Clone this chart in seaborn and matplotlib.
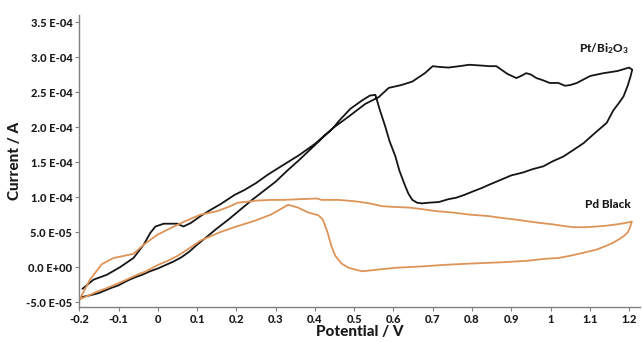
import matplotlib
matplotlib.use("Agg")
import matplotlib.pyplot as plt
import matplotlib.ticker as mticker
import seaborn as sns
import pandas as pd
import numpy as np

# ---- data (potential in V, current in units of 1e-5 A) ----
pt_v = [-0.195, -0.17, -0.15, -0.12, -0.10, -0.08, -0.06, -0.04, -0.02, 0.0, 0.02, 0.04, 0.06, 0.08,
        0.10, 0.12, 0.15, 0.18, 0.21, 0.24, 0.27, 0.30, 0.33, 0.36, 0.39, 0.42, 0.447, 0.46, 0.49,
        0.52, 0.54, 0.554, 0.565, 0.579, 0.59, 0.605, 0.615, 0.627, 0.638, 0.648, 0.66, 0.673, 0.69,
        0.716, 0.74, 0.759, 0.78, 0.802, 0.825, 0.845, 0.879, 0.90, 0.929, 0.955, 0.982, 1.005,
        1.033, 1.06, 1.084, 1.11, 1.143, 1.16, 1.175, 1.186, 1.197, 1.204, 1.208,
        1.20, 1.17, 1.135, 1.101, 1.067, 1.05, 1.037, 1.02, 0.998, 0.98, 0.964, 0.95, 0.938, 0.925,
        0.913, 0.89, 0.862, 0.845, 0.82, 0.793, 0.768, 0.74, 0.715, 0.70, 0.68, 0.648, 0.62, 0.588,
        0.563, 0.528, 0.486, 0.447, 0.40, 0.36, 0.314, 0.28, 0.25, 0.22, 0.195, 0.16, 0.135, 0.109,
        0.084, 0.065, 0.05, 0.015, -0.006, -0.019, -0.036, -0.062, -0.096, -0.13, -0.164, -0.192]
pt_i = [-4.3, -4.0, -3.7, -3.0, -2.6, -2.0, -1.5, -1.1, -0.6, -0.2, 0.3, 0.8, 1.4, 2.2,
        3.2, 4.1, 5.5, 6.8, 8.2, 9.6, 10.9, 12.2, 13.8, 15.3, 16.9, 18.5, 19.9, 20.8, 22.6,
        23.8, 24.5, 24.6, 22.5, 20.1, 18.0, 15.8, 13.8, 12.0, 10.5, 9.6, 9.2, 9.1, 9.2,
        9.3, 9.7, 9.9, 10.3, 10.8, 11.3, 11.8, 12.6, 13.1, 13.5, 14.0, 14.4, 15.1,
        15.8, 16.8, 17.7, 19.0, 20.6, 22.4, 23.5, 24.4, 26.0, 27.3, 28.2,
        28.5, 28.0, 27.7, 27.3, 26.3, 26.0, 25.9, 26.3, 26.3, 26.7, 27.0, 27.5, 27.7, 27.3,
        27.0, 27.6, 28.7, 28.7, 28.8, 28.9, 28.7, 28.5, 28.6, 28.7, 27.7, 26.5, 26.0, 25.6,
        24.3, 23.3, 21.5, 19.9, 17.6, 16.0, 14.4, 13.2, 12.0, 11.0, 10.3, 9.0, 8.2, 7.3,
        6.3, 5.8, 6.2, 6.2, 5.8, 4.9, 3.2, 1.3, 0.0, -1.1, -1.8, -3.1]

pd_v = [-0.199, -0.17, -0.155, -0.13, -0.104, -0.08, -0.053, -0.03, 0.0, 0.025, 0.05, 0.075, 0.109,
        0.13, 0.159, 0.2, 0.246, 0.288, 0.31, 0.332, 0.357, 0.383, 0.409, 0.42, 0.432, 0.442, 0.452,
        0.468, 0.486, 0.52, 0.553, 0.605, 0.673, 0.724, 0.793, 0.879, 0.94, 0.989, 1.02, 1.048, 1.08,
        1.117, 1.14, 1.16, 1.175, 1.186, 1.197, 1.202, 1.207,
        1.19, 1.168, 1.14, 1.117, 1.09, 1.058, 1.03, 1.006, 0.975, 0.947, 0.91, 0.879, 0.84, 0.793,
        0.75, 0.708, 0.67, 0.64, 0.60, 0.571, 0.54, 0.502, 0.46, 0.417, 0.405, 0.36, 0.32, 0.288,
        0.25, 0.238, 0.204, 0.18, 0.152, 0.109, 0.075, 0.041, -0.002, -0.036, -0.062, -0.087,
        -0.113, -0.143, -0.173, -0.199]
pd_i = [-4.6, -3.9, -3.5, -3.0, -2.4, -1.8, -1.1, -0.6, 0.3, 0.9, 1.6, 2.5, 3.8,
        4.3, 5.0, 5.8, 6.6, 7.5, 8.2, 8.9, 8.5, 7.8, 7.4, 6.8, 5.0, 3.0, 1.6,
        0.5, -0.1, -0.6, -0.4, -0.1, 0.1, 0.3, 0.5, 0.7, 0.9, 1.2, 1.3, 1.6, 2.0,
        2.5, 3.0, 3.5, 4.0, 4.4, 5.0, 5.6, 6.5,
        6.3, 6.1, 5.9, 5.8, 5.7, 5.7, 5.9, 6.1, 6.3, 6.5, 6.8, 7.0, 7.3, 7.5,
        7.8, 8.0, 8.3, 8.5, 8.6, 8.7, 9.1, 9.4, 9.6, 9.6, 9.8, 9.7, 9.6, 9.6,
        9.5, 9.4, 9.2, 8.6, 8.0, 7.5, 6.7, 5.8, 4.6, 3.2, 1.9, 1.6,
        1.3, 0.4, -1.8, -4.6]

x_ticks = [-0.2, -0.1, 0, 0.1, 0.2, 0.3, 0.4, 0.5, 0.6, 0.7, 0.8, 0.9, 1.0, 1.1, 1.2]
x_tick_labels = ["-0.2", "-0.1", "0", "0.1", "0.2", "0.3", "0.4", "0.5", "0.6", "0.7", "0.8",
                 "0.9", "1", "1.1", "1.2"]
y_ticks = [-5e-5, 0, 5e-5, 1e-4, 1.5e-4, 2e-4, 2.5e-4, 3e-4, 3.5e-4]
y_tick_labels = ["-5.0 E-05", "0.0 E+00", "5.0 E-05", "1.0 E-04", "1.5 E-04", "2.0 E-04",
                 "2.5 E-04", "3.0 E-04", "3.5 E-04"]

sns.set_style("white")
plt.rcParams["font.family"] = ["Lato", "DejaVu Sans"]
plt.rcParams["mathtext.fontset"] = "custom"
plt.rcParams["mathtext.rm"] = "Lato:black"
plt.rcParams["mathtext.bf"] = "Lato:black"
plt.rcParams["mathtext.it"] = "Lato:black"

df = pd.concat([
    pd.DataFrame({"V": pt_v, "I": np.array(pt_i) * 1e-5, "s": "Pt/Bi2O3"}),
    pd.DataFrame({"V": pd_v, "I": np.array(pd_i) * 1e-5, "s": "Pd Black"}),
], ignore_index=True)

fig = plt.figure(figsize=(6.42, 3.42), dpi=100)
ax = fig.add_axes([0.1235, 0.1023, 0.8735, 0.8537])

sns.lineplot(data=df, x="V", y="I", hue="s", units="s", sort=False, estimator=None,
             palette={"Pt/Bi2O3": "#151515", "Pd Black": "#DE9457"}, linewidth=1.3,
             legend=False, ax=ax)

ax.set_xlim(-0.2, 1.228)
ax.set_ylim(-5.7e-5, 3.6e-4)
ax.xaxis.set_major_locator(mticker.FixedLocator(x_ticks))
ax.set_xticklabels(x_tick_labels)
ax.yaxis.set_major_locator(mticker.FixedLocator(y_ticks))
ax.set_yticklabels(y_tick_labels)

for sp in ["top", "right"]:
    ax.spines[sp].set_visible(False)
for sp in ["left", "bottom"]:
    ax.spines[sp].set_color("#808080")
    ax.spines[sp].set_linewidth(1.0)

ax.tick_params(axis="both", which="major", direction="out", length=3, width=0.8,
               color="#808080", labelsize=8, pad=2, left=True, bottom=True)
for lbl in ax.get_xticklabels() + ax.get_yticklabels():
    lbl.set_fontweight("black")
    lbl.set_color("#1a1a1a")

ax.set_xlabel("Potential / V", fontsize=11, fontweight="black", color="#1a1a1a", labelpad=0)
ax.set_ylabel("Current / A", fontsize=11, fontweight="black", color="#1a1a1a", labelpad=3)

ax.text(1.198, 3.12e-4, r"Pt/Bi$_2$O$_3$", ha="right", va="center", fontsize=8.5,
        fontweight="black", color="#1a1a1a")
ax.text(1.205, 8.9e-5, "Pd Black", ha="right", va="center", fontsize=8.5,
        fontweight="black", color="#1a1a1a")

fig.savefig("out.png", dpi=100)
